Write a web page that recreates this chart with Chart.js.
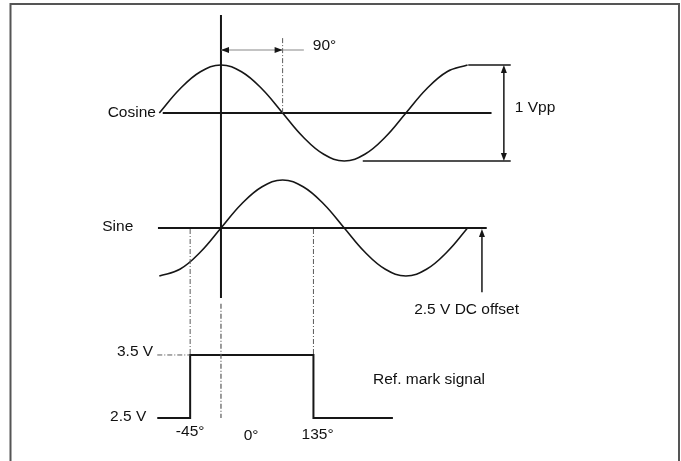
<!DOCTYPE html>
<html>
<head>
<meta charset="utf-8">
<title>Cosine / Sine / Ref. mark signal</title>
<script src="https://cdn.jsdelivr.net/npm/chart.js@4.4.1/dist/chart.umd.min.js"></script>
<style>
    html, body { margin: 0; padding: 0; background: #fff; }
    #wrap { width: 681px; height: 461px; position: relative; }
</style>
</head>
<body>
<div id="wrap"><canvas id="diagram"></canvas></div>
<script>
// Phase angles (degrees) where the track signals were read
const phaseDeg = [-90, -60, -30, 0, 30, 60, 90, 120, 150, 180, 210, 240, 270, 300, 330, 360];
// Track signals in volts: 1 Vpp around the 2.5 V DC offset
const cosineVolts = [2.5, 2.75, 2.93, 3.0, 2.93, 2.75, 2.5, 2.25, 2.07, 2.0, 2.07, 2.25, 2.5, 2.75, 2.93, 3.0];
const sineVolts = [2.0, 2.07, 2.25, 2.5, 2.75, 2.93, 3.0, 2.93, 2.75, 2.5, 2.25, 2.07, 2.0, 2.07, 2.25, 2.5];

// Reference mark pulse, high between -45° and 135°
const refPhaseDeg = [-93, -45, -45, 135, 135, 251];
const refVolts = [2.5, 2.5, 3.5, 3.5, 2.5, 2.5];

// Levels and labels
const dcOffset = 2.5;
const refLow = 2.5;
const refHigh = 3.5;
const phaseMarks = [-45, 0, 135];
const phaseLabels = ['-45°', '0°', '135°'];

const INK = '#161616';
const GUIDE = '#5a5a5a';
const FONT = '15.5px "Liberation Sans", Arial, sans-serif';

function toPoints(xs, ys) {
    return xs.map((x, i) => ({ x: x, y: ys[i] }));
}

// Everything that isn't a signal trace: guides, arrows, labels, frame
const diagramPlugin = {
    id: 'diagram',
    beforeDraw(chart) {
        const ctx = chart.ctx;
        ctx.save();
        ctx.fillStyle = '#fff';
        ctx.fillRect(0, 0, chart.width, chart.height);
        ctx.strokeStyle = '#555';
        ctx.lineWidth = 2;
        ctx.strokeRect(10.5, 4, 668.5, chart.height + 10);
        ctx.restore();
    },
    afterDatasetsDraw(chart) {
        const ctx = chart.ctx;
        const X = d => chart.scales.x.getPixelForValue(d);
        const C = v => chart.scales.yCos.getPixelForValue(v);
        const S = v => chart.scales.ySin.getPixelForValue(v);
        const R = v => chart.scales.yRef.getPixelForValue(v);

        function line(x1, y1, x2, y2, color, width, dash) {
            ctx.save();
            ctx.strokeStyle = color;
            ctx.lineWidth = width;
            ctx.setLineDash(dash || []);
            ctx.beginPath();
            ctx.moveTo(x1, y1);
            ctx.lineTo(x2, y2);
            ctx.stroke();
            ctx.restore();
        }
        function head(x, y, dx, dy, color) {
            // tip at (x, y), pointing along (dx, dy)
            const len = 8, half = 3;
            ctx.save();
            ctx.fillStyle = color;
            ctx.beginPath();
            ctx.moveTo(x, y);
            ctx.lineTo(x - dx * len - dy * half, y - dy * len + dx * half);
            ctx.lineTo(x - dx * len + dy * half, y - dy * len - dx * half);
            ctx.closePath();
            ctx.fill();
            ctx.restore();
        }
        function text(str, x, y, align) {
            ctx.save();
            ctx.font = FONT;
            ctx.fillStyle = '#111';
            ctx.textAlign = align || 'left';
            ctx.textBaseline = 'middle';
            ctx.fillText(str, x, y);
            ctx.restore();
        }
        const dashDot = [5, 2, 1, 2];

        // zero lines of both tracks
        line(X(-85), C(dcOffset), X(395), C(dcOffset), INK, 2);
        line(X(-92), S(dcOffset), X(388), S(dcOffset), INK, 2);

        // 0° reference, solid through the tracks then dash-dot down to the pulse
        line(X(0), C(3.52), X(0), S(1.77), INK, 2);
        line(X(0), S(1.71), X(0), R(refLow), GUIDE, 1.2, dashDot);

        // 90° marker and phase arrow
        line(X(90), C(3.28), X(90), C(dcOffset), GUIDE, 1, dashDot);
        line(X(0), C(3.156), X(121), C(3.156), '#888', 1.2);
        head(X(0), C(3.156), -1, 0, INK);
        head(X(90), C(3.156), 1, 0, INK);
        text('90°', X(134), C(3.2));

        // 1 Vpp span on the cosine
        line(X(361), C(3.0), X(423), C(3.0), INK, 1.5);
        line(X(207), C(2.0), X(423), C(2.0), INK, 1.5);
        line(X(413), C(3.0) + 6, X(413), C(2.0) - 6, INK, 1.5);
        head(X(413), C(3.0), 0, -1, INK);
        head(X(413), C(2.0), 0, 1, INK);
        text('1 Vpp', X(429), C(2.56));

        // DC offset arrow on the sine
        line(X(381), S(1.83), X(381), S(dcOffset) + 6, INK, 1.5);
        head(X(381), S(dcOffset) + 1, 0, -1, INK);
        text('2.5 V DC offset', X(282), S(1.645));

        // -45° / 135° projections onto the pulse
        [phaseMarks[0], phaseMarks[2]].forEach(d => {
            line(X(d), S(dcOffset) + 1, X(d), R(refHigh), GUIDE, 1, dashDot);
        });
        line(X(-93), R(refHigh), X(-45), R(refHigh), GUIDE, 1, dashDot);

        // labels
        text('Cosine', X(-95), C(dcOffset), 'right');
        text('Sine', X(-128), S(dcOffset) - 1, 'right');
        text('3.5 V', X(-99), R(3.55), 'right');
        text('2.5 V', X(-109), R(2.52), 'right');
        text('Ref. mark signal', X(222), R(3.1));
        const labelDeg = [-45, 44, 141];
        const labelVolt = [2.28, 2.215, 2.23];
        phaseLabels.forEach((s, i) => text(s, X(labelDeg[i]), R(labelVolt[i]), 'center'));
    }
};

const traceStyle = {
    borderColor: INK,
    borderWidth: 1.6,
    pointRadius: 0,
    fill: false,
    tension: 0.4
};

new Chart(document.getElementById('diagram'), {
    type: 'line',
    data: {
        datasets: [
            Object.assign({ label: 'Cosine', data: toPoints(phaseDeg, cosineVolts), yAxisID: 'yCos' }, traceStyle),
            Object.assign({ label: 'Sine', data: toPoints(phaseDeg, sineVolts), yAxisID: 'ySin' }, traceStyle),
            {
                label: 'Ref. mark signal',
                data: toPoints(refPhaseDeg, refVolts),
                yAxisID: 'yRef',
                borderColor: INK,
                borderWidth: 2,
                pointRadius: 0,
                fill: false,
                tension: 0
            }
        ]
    },
    options: {
        responsive: true,
        maintainAspectRatio: false,
        animation: false,
        events: [],
        layout: { padding: 0 },
        scales: {
            x: { type: 'linear', display: false, min: -322.6, max: 671.6 },
            yCos: { type: 'linear', display: false, min: -1.125, max: 3.677 },
            ySin: { type: 'linear', display: false, min: 0.073, max: 4.875 },
            yRef: { type: 'linear', display: false, min: 1.817, max: 9.135 }
        },
        plugins: {
            legend: { display: false },
            tooltip: { enabled: false },
            title: { display: false }
        }
    },
    plugins: [diagramPlugin]
});
</script>
</body>
</html>
